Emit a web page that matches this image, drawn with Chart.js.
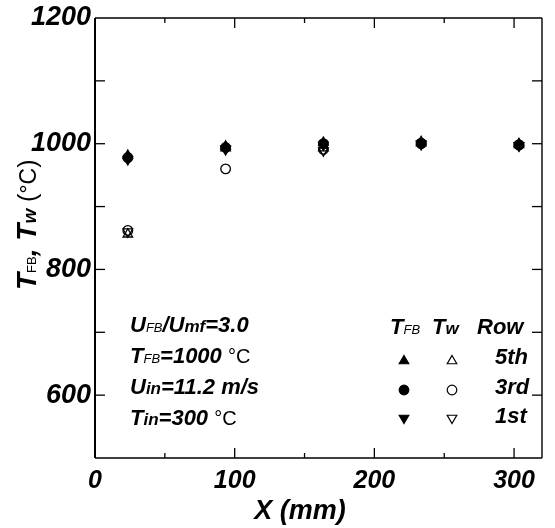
<!DOCTYPE html>
<html>
<head>
<meta charset="utf-8">
<title>TFB / Tw along X</title>
<script src="https://cdn.jsdelivr.net/npm/chart.js@4.4.0/dist/chart.umd.min.js"></script>
<style>
	html, body { margin: 0; padding: 0; background: #fff; }
</style>
</head>
<body>
<canvas id="myChart" width="555" height="528"></canvas>
<script>
	// positions of the tubes along the bed (mm)
	var xPositions = [23.5, 93.5, 163.5, 233.5, 303.5];
	// bed temperature TFB for each row
	var tfb5th = [981, 996, 1002, 1003, 1000];
	var tfb3rd = [978, 994, 1000, 1001, 998];
	var tfb1st = [975, 991, 998, 1000, 997];
	// wall temperature Tw for each row
	var tw5th = [856, 993, 993, 1001, 998];
	var tw3rd = [862, 960, 991, 1000, 998];
	var tw1st = [860, 992, 989, 999, 997];

	// tick positions (major + minor) and which ones get a label
	var xTickValues = [0, 50, 100, 150, 200, 250, 300];
	var yTickValues = [500, 600, 700, 800, 900, 1000, 1100, 1200];
	var xTickLabels = [0, 100, 200, 300];
	var yTickLabels = [600, 800, 1000, 1200];
	var xMin = 0, xMax = 320, yMin = 500, yMax = 1200;

	var FAM = '"Liberation Sans", Arial, sans-serif';
	function f(size, bold, italic) {
		return (italic ? 'italic ' : '') + (bold ? 'bold ' : '') + size + 'px ' + FAM;
	}

	function toPoints(vals) {
		return vals.map((v, i) => ({ x: xPositions[i], y: v }));
	}

	function makeSet(label, vals, style, filled, rot, order) {
		return {
			label: label,
			data: toPoints(vals),
			pointStyle: style,
			rotation: rot,
			pointRadius: style == 'circle' ? 4.8 : 5.5,
			borderWidth: 1.3,
			borderColor: '#000',
			backgroundColor: filled ? '#000' : 'rgba(0,0,0,0)',
			showLine: false,
			order: order
		};
	}

	// draw a run of text pieces with different fonts, returns end x
	function drawRich(ctx, parts, x, y) {
		ctx.textAlign = 'left';
		ctx.textBaseline = 'alphabetic';
		for (let p of parts) {
			ctx.font = p[1];
			ctx.fillText(p[0], x, y);
			x += ctx.measureText(p[0]).width;
		}
		return x;
	}

	function marker(ctx, kind, filled, x, y, r) {
		ctx.beginPath();
		if (kind == 'circle') {
			ctx.arc(x, y, r, 0, Math.PI * 2);
		} else {
			let s = kind == 'up' ? 1 : -1;
			ctx.moveTo(x, y - s * r);
			ctx.lineTo(x + r * 0.87, y + s * r * 0.5);
			ctx.lineTo(x - r * 0.87, y + s * r * 0.5);
			ctx.closePath();
		}
		if (filled) { ctx.fill(); }
		ctx.stroke();
	}

	var frameAndText = {
		id: 'frameAndText',
		afterDraw(chart) {
			const ctx = chart.ctx, a = chart.chartArea;
			const xs = chart.scales.x, ys = chart.scales.y;
			ctx.save();
			ctx.strokeStyle = '#000';
			ctx.fillStyle = '#000';
			function seg(x1, y1, x2, y2, w) {
				ctx.lineWidth = w;
				ctx.beginPath(); ctx.moveTo(x1, y1); ctx.lineTo(x2, y2); ctx.stroke();
			}
			// box
			seg(a.left, a.top, a.left, a.bottom, 2);
			seg(a.left, a.bottom, a.right, a.bottom, 1.4);
			seg(a.left, a.top, a.right, a.top, 1.4);
			seg(a.right, a.top, a.right, a.bottom, 1.4);
			// inward ticks, mirrored
			ys.ticks.forEach(t => {
				if (t.value <= yMin || t.value >= yMax) return;
				const py = ys.getPixelForValue(t.value);
				seg(a.left, py, a.left + 10, py, 1.3);
				seg(a.right, py, a.right - 10, py, 1.3);
			});
			xs.ticks.forEach(t => {
				if (t.value <= xMin || t.value >= xMax) return;
				const px = xs.getPixelForValue(t.value);
				const len = t.value % 100 == 0 ? 10 : 5;
				seg(px, a.bottom, px, a.bottom - len, 1.3);
				seg(px, a.top, px, a.top + len, 1.3);
			});

			// x title
			ctx.font = f(27, true, true);
			ctx.textAlign = 'center';
			ctx.textBaseline = 'middle';
			ctx.fillText('X (mm)', 300, 512);

			// y title with subscripts
			ctx.save();
			ctx.translate(36, 290);
			ctx.rotate(-Math.PI / 2);
			drawRich(ctx, [
				['T', f(28, true, true)], ['FB', f(13, false, false)], [', ', f(28, true, true)],
				['T', f(28, true, true)], ['w', f(19, true, true)], [' (', f(25, false, false)],
				['\u00B0C', f(23, false, false)], [')', f(25, false, false)]
			], 0, 0);
			ctx.restore();

			// conditions
			const big = f(22, true, true), subC = f(13, false, true), subL = f(17, true, true), deg = f(20, false, false);
			drawRich(ctx, [['U', big], ['FB', subC], ['/U', big], ['mf', subL], ['=3.0', big]], 130, 332);
			drawRich(ctx, [['T', big], ['FB', subC], ['=1000 ', big], ['\u00B0C', deg]], 130, 363);
			drawRich(ctx, [['U', big], ['in', subL], ['=11.2 m/s', big]], 130, 394);
			drawRich(ctx, [['T', big], ['in', subL], ['=300 ', big], ['\u00B0C', deg]], 130, 425);

			// legend table
			drawRich(ctx, [['T', big], ['FB', subC]], 390, 334);
			drawRich(ctx, [['T', big], ['w', subL]], 432, 334);
			drawRich(ctx, [['Row', big]], 477, 334);
			const rows = [['5th', 'up', 361, 364], ['3rd', 'circle', 390, 394], ['1st', 'down', 418, 423]];
			ctx.lineWidth = 1.2;
			for (let r of rows) {
				marker(ctx, r[1], true, 404, r[2], r[1] == 'circle' ? 4.8 : 5.5);
				marker(ctx, r[1], false, 452, r[2], r[1] == 'circle' ? 4.8 : 5.5);
				drawRich(ctx, [[r[0], big]], 495, r[3]);
			}
			ctx.restore();
		}
	};

	new Chart(document.getElementById('myChart'), {
		type: 'scatter',
		data: {
			datasets: [
				makeSet('TFB 5th', tfb5th, 'triangle', true, 0, 1),
				makeSet('TFB 3rd', tfb3rd, 'circle', true, 0, 2),
				makeSet('TFB 1st', tfb1st, 'triangle', true, 180, 3),
				makeSet('Tw 5th', tw5th, 'triangle', false, 0, 4),
				makeSet('Tw 3rd', tw3rd, 'circle', false, 0, 5),
				makeSet('Tw 1st', tw1st, 'triangle', false, 180, 6)
			]
		},
		options: {
			responsive: false,
			animation: false,
			layout: { padding: { top: 18, right: 13, left: 0, bottom: 0 } },
			plugins: { legend: { display: false }, tooltip: { enabled: false } },
			scales: {
				x: {
					type: 'linear', min: xMin, max: xMax,
					grid: { display: false },
					border: { display: false },
					afterBuildTicks: s => { s.ticks = xTickValues.map(v => ({ value: v })); },
					ticks: {
						color: '#000', padding: 0, maxRotation: 0, autoSkip: false,
						font: { family: FAM, size: 25, style: 'italic', weight: 'bold' },
						callback: v => xTickLabels.includes(v) ? String(v) : ''
					},
					afterFit: s => { s.height = 70; }
				},
				y: {
					type: 'linear', min: yMin, max: yMax,
					grid: { display: false },
					border: { display: false },
					afterBuildTicks: s => { s.ticks = yTickValues.map(v => ({ value: v })); },
					ticks: {
						color: '#000', padding: -4, autoSkip: false,
						font: { family: FAM, size: 27, style: 'italic', weight: 'bold' },
						callback: v => yTickLabels.includes(v) ? String(v) : ''
					},
					afterFit: s => { s.width = 95; }
				}
			}
		},
		plugins: [frameAndText]
	});
</script>
</body>
</html>
